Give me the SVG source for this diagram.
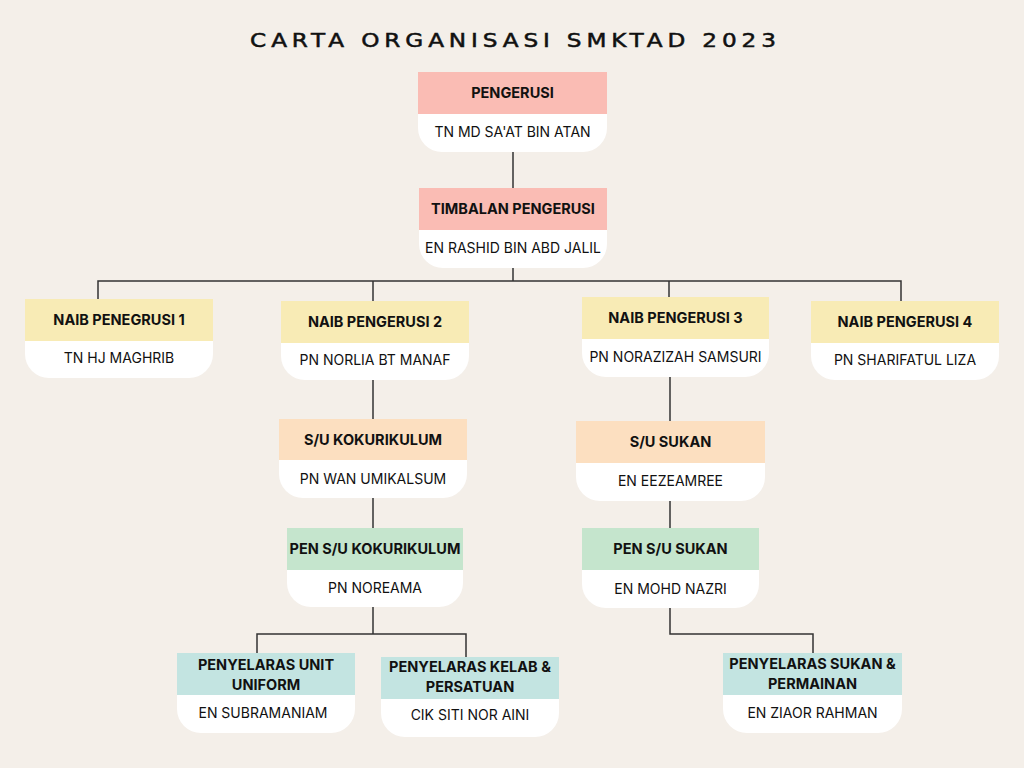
<svg xmlns="http://www.w3.org/2000/svg" width="1024" height="768" viewBox="0 0 1024 768">
<style>
.bg{fill:#F4EFE9}
.body{fill:#FFFFFF}
.h1{fill:#FABCB4}
.h2{fill:#F8EBB5}
.h3{fill:#FCDFC0}
.h4{fill:#C5E5CD}
.h5{fill:#C3E4E1}
.ht{font-family:Inter,"Noto Sans",sans-serif;font-weight:700;font-size:14.5px;fill:#111;text-anchor:middle}
.bt{font-family:Inter,"Noto Sans",sans-serif;font-weight:400;font-size:14px;fill:#111;text-anchor:middle}
.title{font-family:"DejaVu Sans",sans-serif;font-size:19px;fill:#111;stroke:#111;stroke-width:0.5;text-anchor:middle}
.conn{fill:none;stroke:#333;stroke-width:1.5}
</style>
<rect class="bg" x="0" y="0" width="1024" height="768"/>
<text class="title" transform="translate(513,47) scale(1.22,1)" x="0" y="0" textLength="431" lengthAdjust="spacing">CARTA ORGANISASI SMKTAD 2023</text>
<g id="connectors">
<path class="conn" d="M513,152 V188"/>
<path class="conn" d="M513,268 V281"/>
<path class="conn" d="M98,299 V281 H901 V301"/>
<path class="conn" d="M373,281 V301"/>
<path class="conn" d="M669,281 V297"/>
<path class="conn" d="M373,380 V419"/>
<path class="conn" d="M373,498 V528"/>
<path class="conn" d="M373,607 V634"/>
<path class="conn" d="M257,653 V634 H466 V657"/>
<path class="conn" d="M670,377 V421"/>
<path class="conn" d="M670,501 V528"/>
<path class="conn" d="M670,608 V634 H813 V653"/>
</g>
<g id="pengerusi">
<path class="body" d="M418,72 h189 v56 a24,24 0 0 1 -24,24 h-141 a24,24 0 0 1 -24,-24 z"/>
<rect class="h1" x="418" y="72" width="189" height="42"/>
<text class="ht" x="512.5" y="98">PENGERUSI</text>
<text class="bt" x="512.5" y="137">TN MD SA'AT BIN ATAN</text>
</g>
<g id="timbalan">
<path class="body" d="M419,188 h188 v56 a24,24 0 0 1 -24,24 h-140 a24,24 0 0 1 -24,-24 z"/>
<rect class="h1" x="419" y="188" width="188" height="42"/>
<text class="ht" x="513" y="214">TIMBALAN PENGERUSI</text>
<text class="bt" x="513" y="253">EN RASHID BIN ABD JALIL</text>
</g>
<g id="naib1">
<path class="body" d="M25,299 h188 v55 a24,24 0 0 1 -24,24 h-140 a24,24 0 0 1 -24,-24 z"/>
<rect class="h2" x="25" y="299" width="188" height="42"/>
<text class="ht" x="119" y="325">NAIB PENEGRUSI 1</text>
<text class="bt" x="119" y="363">TN HJ MAGHRIB</text>
</g>
<g id="naib2">
<path class="body" d="M281,301 h188 v55 a24,24 0 0 1 -24,24 h-140 a24,24 0 0 1 -24,-24 z"/>
<rect class="h2" x="281" y="301" width="188" height="42"/>
<text class="ht" x="375" y="327">NAIB PENGERUSI 2</text>
<text class="bt" x="375" y="365">PN NORLIA BT MANAF</text>
</g>
<g id="naib3">
<path class="body" d="M582,297 h187 v56 a24,24 0 0 1 -24,24 h-139 a24,24 0 0 1 -24,-24 z"/>
<rect class="h2" x="582" y="297" width="187" height="42"/>
<text class="ht" x="675.5" y="323">NAIB PENGERUSI 3</text>
<text class="bt" x="675.5" y="362">PN NORAZIZAH SAMSURI</text>
</g>
<g id="naib4">
<path class="body" d="M811,301 h188 v55 a24,24 0 0 1 -24,24 h-140 a24,24 0 0 1 -24,-24 z"/>
<rect class="h2" x="811" y="301" width="188" height="42"/>
<text class="ht" x="905" y="327">NAIB PENGERUSI 4</text>
<text class="bt" x="905" y="365">PN SHARIFATUL LIZA</text>
</g>
<g id="su-kokurikulum">
<path class="body" d="M279,419 h188 v55 a24,24 0 0 1 -24,24 h-140 a24,24 0 0 1 -24,-24 z"/>
<rect class="h3" x="279" y="419" width="188" height="41"/>
<text class="ht" x="373" y="445">S/U KOKURIKULUM</text>
<text class="bt" x="373" y="484">PN WAN UMIKALSUM</text>
</g>
<g id="pen-su-kokurikulum">
<path class="body" d="M287,528 h176 v55 a24,24 0 0 1 -24,24 h-128 a24,24 0 0 1 -24,-24 z"/>
<rect class="h4" x="287" y="528" width="176" height="42"/>
<text class="ht" x="375" y="554">PEN S/U KOKURIKULUM</text>
<text class="bt" x="375" y="593">PN NOREAMA</text>
</g>
<g id="su-sukan">
<path class="body" d="M576,421 h189 v56 a24,24 0 0 1 -24,24 h-141 a24,24 0 0 1 -24,-24 z"/>
<rect class="h3" x="576" y="421" width="189" height="42"/>
<text class="ht" x="670.5" y="447">S/U SUKAN</text>
<text class="bt" x="670.5" y="486">EN EEZEAMREE</text>
</g>
<g id="pen-su-sukan">
<path class="body" d="M582,528 h177 v56 a24,24 0 0 1 -24,24 h-129 a24,24 0 0 1 -24,-24 z"/>
<rect class="h4" x="582" y="528" width="177" height="42"/>
<text class="ht" x="670.5" y="554">PEN S/U SUKAN</text>
<text class="bt" x="670.5" y="594">EN MOHD NAZRI</text>
</g>
<g id="penyelaras-unit-uniform">
<path class="body" d="M177,653 h178 v56 a24,24 0 0 1 -24,24 h-130 a24,24 0 0 1 -24,-24 z"/>
<rect class="h5" x="177" y="653" width="178" height="42"/>
<text class="ht" x="266" y="670">PENYELARAS UNIT</text>
<text class="ht" x="266" y="690">UNIFORM</text>
<text class="bt" x="263" y="718">EN SUBRAMANIAM</text>
</g>
<g id="penyelaras-kelab">
<path class="body" d="M381,657 h178 v56 a24,24 0 0 1 -24,24 h-130 a24,24 0 0 1 -24,-24 z"/>
<rect class="h5" x="381" y="657" width="178" height="42"/>
<text class="ht" x="470" y="672">PENYELARAS KELAB &amp;</text>
<text class="ht" x="470" y="692">PERSATUAN</text>
<text class="bt" x="470" y="720">CIK SITI NOR AINI</text>
</g>
<g id="penyelaras-sukan">
<path class="body" d="M723,653 h179 v56 a24,24 0 0 1 -24,24 h-131 a24,24 0 0 1 -24,-24 z"/>
<rect class="h5" x="723" y="653" width="179" height="42"/>
<text class="ht" x="812.5" y="669">PENYELARAS SUKAN &amp;</text>
<text class="ht" x="812.5" y="689">PERMAINAN</text>
<text class="bt" x="812.5" y="718">EN ZIAOR RAHMAN</text>
</g>
</svg>
